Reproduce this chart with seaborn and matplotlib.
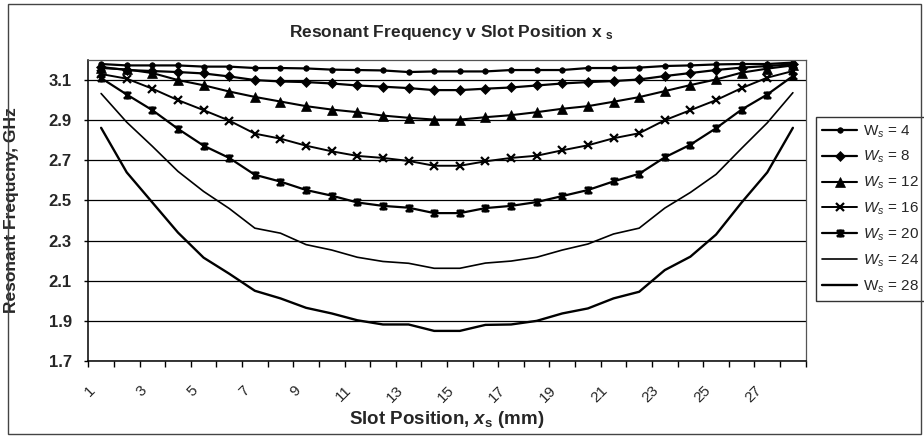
import numpy as np
import pandas as pd
import matplotlib
matplotlib.use("Agg")
import matplotlib.pyplot as plt
import seaborn as sns
from matplotlib.path import Path
from matplotlib.patches import Rectangle

# ---------------- data ----------------
slot_positions = list(range(1, 29))
slot_widths = [4, 8, 12, 16, 20, 24, 28]

f_ws4 = [3.180, 3.173, 3.173, 3.173, 3.167, 3.167, 3.160, 3.160, 3.158, 3.152, 3.150, 3.148, 3.140, 3.143,
         3.143, 3.143, 3.150, 3.150, 3.150, 3.160, 3.160, 3.162, 3.170, 3.173, 3.178, 3.180, 3.180, 3.187]
f_ws8 = [3.165, 3.150, 3.145, 3.140, 3.133, 3.118, 3.100, 3.093, 3.090, 3.083, 3.073, 3.067, 3.060, 3.050,
         3.050, 3.057, 3.063, 3.073, 3.083, 3.090, 3.095, 3.103, 3.120, 3.135, 3.150, 3.162, 3.170, 3.178]
f_ws12 = [3.160, 3.153, 3.135, 3.100, 3.074, 3.043, 3.016, 2.993, 2.970, 2.953, 2.940, 2.923, 2.912, 2.903,
          2.903, 2.915, 2.925, 2.940, 2.957, 2.970, 2.992, 3.015, 3.045, 3.075, 3.103, 3.137, 3.157, 3.173]
f_ws16 = [3.130, 3.107, 3.057, 3.000, 2.950, 2.898, 2.833, 2.808, 2.773, 2.745, 2.722, 2.712, 2.697, 2.673,
          2.673, 2.695, 2.712, 2.723, 2.750, 2.775, 2.810, 2.835, 2.900, 2.950, 3.000, 3.060, 3.112, 3.145]
f_ws20 = [3.110, 3.028, 2.950, 2.857, 2.773, 2.712, 2.628, 2.594, 2.552, 2.524, 2.490, 2.473, 2.464, 2.437,
          2.437, 2.462, 2.473, 2.492, 2.522, 2.552, 2.595, 2.633, 2.715, 2.778, 2.860, 2.953, 3.028, 3.120]
f_ws24 = [3.033, 2.890, 2.770, 2.645, 2.545, 2.460, 2.362, 2.337, 2.280, 2.253, 2.217, 2.196, 2.187, 2.162,
          2.162, 2.188, 2.198, 2.217, 2.253, 2.283, 2.333, 2.362, 2.462, 2.540, 2.630, 2.760, 2.887, 3.037]
f_ws28 = [2.862, 2.640, 2.490, 2.340, 2.215, 2.135, 2.050, 2.012, 1.965, 1.937, 1.903, 1.882, 1.882, 1.850,
          1.850, 1.880, 1.882, 1.900, 1.937, 1.962, 2.012, 2.045, 2.153, 2.220, 2.330, 2.490, 2.640, 2.862]

legend_labels = ["W$_\\mathsf{s}$ = 4", "$\\mathsf{W}_\\mathsf{s}$ = 8", "$\\mathsf{W}_\\mathsf{s}$ = 12",
                 "$\\mathsf{W}_\\mathsf{s}$ = 16", "$\\mathsf{W}_\\mathsf{s}$ = 20",
                 "$\\mathsf{W}_\\mathsf{s}$ = 24", "W$_\\mathsf{s}$ = 28"]
y_ticks = [1.7, 1.9, 2.1, 2.3, 2.5, 2.7, 2.9, 3.1]

series = [f_ws4, f_ws8, f_ws12, f_ws16, f_ws20, f_ws24, f_ws28]
frames = []
for w, vals in zip(slot_widths, series):
    frames.append(pd.DataFrame({"pos": np.arange(len(slot_positions)), "freq": vals, "ws": w}))
df = pd.concat(frames, ignore_index=True)

# ---------------- style ----------------
sns.set_style("white")
plt.rcParams["font.family"] = ["Liberation Sans", "DejaVu Sans"]
plt.rcParams["mathtext.fontset"] = "custom"
plt.rcParams["mathtext.rm"] = "Liberation Sans"
plt.rcParams["mathtext.bf"] = "Liberation Sans:bold"
plt.rcParams["mathtext.it"] = "Liberation Sans:italic:bold"
plt.rcParams["mathtext.sf"] = "Liberation Sans:italic"

star = Path([(-1, -1), (1, 1), (-1, 1), (1, -1), (0, -1.2), (0, 1.2)],
            [Path.MOVETO, Path.LINETO, Path.MOVETO, Path.LINETO, Path.MOVETO, Path.LINETO])

styles = {
    4: dict(marker="o", markersize=4, lw=1.6),
    8: dict(marker="D", markersize=5.5, lw=1.6),
    12: dict(marker="^", markersize=6.5, lw=1.5),
    16: dict(marker="x", markersize=6, markeredgewidth=1.6, lw=1.4),
    20: dict(marker=star, markersize=6, markeredgewidth=2.0, lw=1.6),
    24: dict(marker=None, lw=1.2),
    28: dict(marker=None, lw=1.7),
}

fig = plt.figure(figsize=(9.24, 4.37), dpi=100)
W, H = 924, 437
ax = fig.add_axes([88.3 / W, 1 - 361 / H, (805.7 - 88.3) / W, (361 - 60) / H])

for w, lab in zip(slot_widths, legend_labels):
    sub = df[df["ws"] == w]
    st = styles[w]
    sns.lineplot(data=sub, x="pos", y="freq", ax=ax, color="black", label=lab,
                 marker=st.get("marker"), markersize=st.get("markersize", 0),
                 markeredgewidth=st.get("markeredgewidth", 0.5),
                 markeredgecolor="black", markerfacecolor="black",
                 linewidth=st["lw"], estimator=None, sort=False)

# axes
n = len(slot_positions)
ax.set_xlim(-0.5, n - 0.5)
ax.set_ylim(1.7, 3.2)
ax.set_yticks(y_ticks)
ax.set_yticklabels([f"{v:.1f}" for v in y_ticks], fontsize=12, fontweight="bold")
bounds = np.arange(n + 1) - 0.5
ax.set_xticks(bounds)
xlabels = [str(k + 1) if (k % 2 == 0 and k + 1 <= 27) else "" for k in range(n + 1)]
ax.set_xticklabels(xlabels, rotation=45, ha="right", va="top", rotation_mode="anchor", fontsize=11)
ax.tick_params(axis="x", direction="out", length=4, width=1, color="black", pad=12, bottom=True)
ax.tick_params(axis="y", direction="out", length=3, width=1, color="black", pad=9, left=True)

ax.grid(axis="y", color="black", linewidth=0.9)
ax.grid(axis="x", visible=False)
ax.set_axisbelow(True)
for side in ["left", "bottom"]:
    ax.spines[side].set_color("black")
    ax.spines[side].set_linewidth(1.1)
for side in ["top", "right"]:
    ax.spines[side].set_color("#555555")
    ax.spines[side].set_linewidth(0.9)
    ax.spines[side].set_visible(True)

ax.set_xlabel("")
fig.text(447 / W, 1 - 420 / H, "Slot Position, $x$$_\\mathbf{s}$ (mm)",
         ha="center", va="center", fontsize=13.5, fontweight="bold")
ax.set_ylabel("Resonant Frequcny, GHz", fontsize=12.5, fontweight="bold")
ax.yaxis.set_label_coords((19 - 88.3) / (805.7 - 88.3), 0.5)
fig.text(451 / W, 1 - 32 / H, "Resonant Frequency v Slot Position x $_\\mathbf{s}$",
         ha="center", va="center", fontsize=12.5, fontweight="bold")

leg = ax.legend(loc="upper left", bbox_to_anchor=(816 / W, 1 - 117 / H), bbox_transform=fig.transFigure,
                borderaxespad=0, frameon=True, fancybox=False, edgecolor="black", fontsize=11,
                handlelength=2.3, handletextpad=0.35, labelspacing=0.62, borderpad=0.4)
leg.get_frame().set_linewidth(1.0)

fig.patches.append(Rectangle((8 / W, 3 / H), (921 - 8) / W, (433 - 3) / H, transform=fig.transFigure,
                             fill=False, edgecolor="#444444", linewidth=1.0))

fig.savefig("out.png", dpi=100, facecolor="white")
